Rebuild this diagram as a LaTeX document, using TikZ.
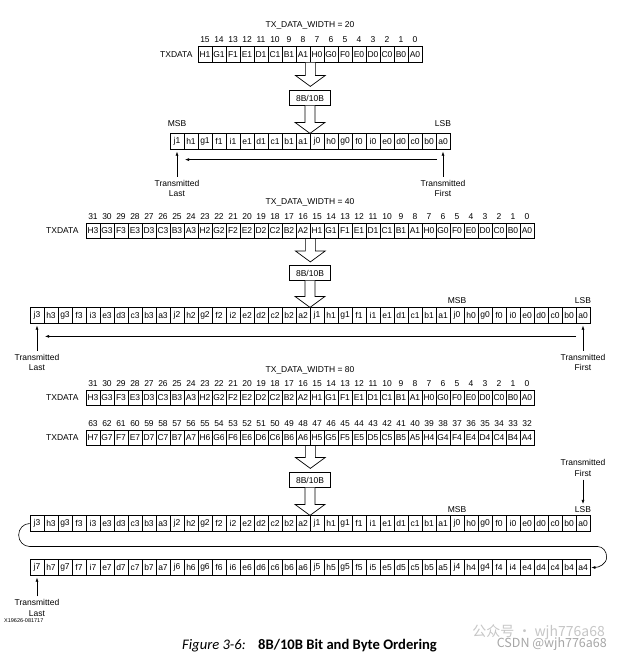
\documentclass[tikz,border=0pt]{standalone}
\usepackage{fontspec}
\setmainfont{Liberation Sans}
\newfontfamily\capfont{Carlito}
\newfontfamily\cjkfont{Noto Sans CJK SC}
\usetikzlibrary{positioning,arrows.meta,calc}

\newcommand{\figfont}{\fontsize{8.5}{10.5}\selectfont}

% hollow arrow: shaft from #2 down, tip #1 above #3
\newcommand{\fatarrow}[3][0pt]{%
  \draw[fill=white, line width=0.7pt] let \p1=(#2), \p2=(#3) in
    (\x1-5pt,\y1) -- (\x1-5pt,\y2+#1+11pt) -- (\x1-15pt,\y2+#1+11pt)
    -- (\x1,\y2+#1) -- (\x1+15pt,\y2+#1+11pt) -- (\x1+5pt,\y2+#1+11pt) -- (\x1+5pt,\y1);}

% TXDATA row: name, left edge, y, bytes (high to low)
\newcommand{\txrow}[4]{%
  \foreach \b [count=\p from 0] in {#4} {
    \foreach \l [count=\q from 0] in {H,G,F,E,D,C,B,A} {
      \pgfmathtruncatemacro\c{\p*8+\q}
      \pgfmathtruncatemacro\n{\b*8+7-\q}
      \node[bitcell] (#1-\n) at (#2+7+14*\c, #3) {\l\b};
      \node[bitnum, above=3.5pt of #1-\n] {\n};
    }
  }}

% encoded row: name, left edge, y, bytes (high to low)
\newcommand{\encrow}[4]{%
  \foreach \b [count=\p from 0] in {#4} {
    \foreach \l [count=\q from 0] in {j,h,g,f,i,e,d,c,b,a} {
      \pgfmathtruncatemacro\c{\p*10+\q}
      \node[bitcell] (#1-\l\b) at (#2+7+14*\c, #3) {\l\b};
    }
  }}

\begin{document}
\begin{tikzpicture}[
    x=1pt, y=-1pt,
    font=\figfont,
    bitcell/.style={draw, line width=0.7pt, minimum width=14pt, minimum height=15.5pt, inner sep=0pt, font=\figfont},
    bitnum/.style={inner sep=0pt, font=\figfont},
    codebox/.style={draw, line width=0.7pt, minimum width=41pt, minimum height=14.5pt, inner sep=0pt, fill=white},
    lbl/.style={inner sep=0pt, align=center, font=\figfont},
    sendarrow/.style={-{Latex[length=4pt,width=3pt]}, line width=0.6pt}
]
    \useasboundingbox (0,0) rectangle (622,657);

    % TX_DATA_WIDTH = 20
    \node[lbl] (w20) at (310,25) {TX\_DATA\_WIDTH = 20};
    \txrow{t20}{198}{54.5}{1,0}
    \node[lbl, left=5pt of t20-15] (tx20) {TXDATA};
    \node[codebox] (cb20) at (310,98) {8B/10B};
    \encrow{enc20}{170}{141.5}{1,0}
    \fatarrow[4pt]{t20-8.south east}{cb20.north}
    \fatarrow{cb20.south}{enc20-a1.north east}
    \node[lbl, above=7pt of enc20-j1] (msb20) {MSB};
    \node[lbl, above=7pt of enc20-a0] (lsb20) {LSB};
    \draw[sendarrow] ($(enc20-a0.south)+(-6,10)$) -- ($(enc20-j1.south)+(8,10)$);
    \node[lbl] (last20) at ($(enc20-j1)+(0,47)$) {Transmitted\\Last};
    \node[lbl] (first20) at ($(enc20-a0)+(0,47)$) {Transmitted\\First};
    \draw[sendarrow] ([yshift=3pt]last20.north) -- ([yshift=-2pt]enc20-j1.south);
    \draw[sendarrow] ([yshift=3pt]first20.north) -- ([yshift=-2pt]enc20-a0.south);

    % TX_DATA_WIDTH = 40
    \node[lbl] (w40) at (310,202) {TX\_DATA\_WIDTH = 40};
    \txrow{t40}{86}{231}{3,2,1,0}
    \node[lbl, left=7pt of t40-31] (tx40) {TXDATA};
    \node[codebox] (cb40) at (310,273) {8B/10B};
    \encrow{enc40}{30}{315.5}{3,2,1,0}
    \fatarrow[3.5pt]{t40-16.south east}{cb40.north}
    \fatarrow{cb40.south}{enc40-a2.north east}
    \node[lbl, above=4pt of enc40-j0] (msb40) {MSB};
    \node[lbl, above=4pt of enc40-a0] (lsb40) {LSB};
    \draw[sendarrow] ($(enc40-a0.south)+(-7,12.75)$) -- ($(enc40-j3.south)+(8,12.75)$);
    \node[lbl] (last40) at ($(enc40-j3)+(0,47)$) {Transmitted\\Last};
    \node[lbl] (first40) at ($(enc40-a0)+(0,47)$) {Transmitted\\First};
    \draw[sendarrow] ([yshift=3pt]last40.north) -- ([yshift=-2pt]enc40-j3.south);
    \draw[sendarrow] ([yshift=3pt]first40.north) -- ([yshift=-2pt]enc40-a0.south);

    % TX_DATA_WIDTH = 80
    \node[lbl] (w80) at (310,370) {TX\_DATA\_WIDTH = 80};
    \txrow{t80}{86}{398}{3,2,1,0}
    \txrow{t80}{86}{438}{7,6,5,4}
    \node[lbl, left=7pt of t80-31] (txa80) {TXDATA};
    \node[lbl, left=7pt of t80-63] (txb80) {TXDATA};
    \node[codebox] (cb80) at (310,480) {8B/10B};
    \encrow{enc80}{30}{523.5}{3,2,1,0}
    \encrow{enc80}{30}{567.5}{7,6,5,4}
    \fatarrow[4pt]{t80-48.south east}{cb80.north}
    \fatarrow{cb80.south}{enc80-a2.north east}
    \node[lbl, above=3pt of enc80-j0] (msb80) {MSB};
    \node[lbl, above=3pt of enc80-a0] (lsb80) {LSB};
    \node[lbl] (first80) at ($(enc80-a0)+(0,-55.5)$) {Transmitted\\First};
    \draw[sendarrow] ([yshift=-3pt]first80.south) -- ([yshift=2pt]lsb80.north);
    \draw[sendarrow] (enc80-j3.west) to[out=180,in=90] ++(-11,11.5) to[out=-90,in=180] ++(11,11.5)
        -- ++(568,0) to[out=0,in=90] ++(9,10.5) to[out=-90,in=0] ([xshift=1pt]enc80-a4.east);
    \node[lbl] (last80) at ($(enc80-j7)+(0,40.5)$) {Transmitted\\Last};
    \draw[sendarrow] ([yshift=3pt]last80.north) -- ([yshift=-2pt]enc80-j7.south);
    \node[inner sep=0pt, anchor=west, font=\fontsize{5.5}{6}\selectfont] (xref) at (4,621) {X19626-081717};

    % caption
    \node[inner sep=0pt, anchor=base west, font=\capfont\fontsize{14.6}{16}\selectfont\itshape] (figno) at (182,649) {Figure 3-6:};
    \node[inner sep=0pt, anchor=base west, font=\capfont\fontsize{14.6}{16}\selectfont\bfseries] (figttl) at (258,649) {8B/10B Bit and Byte Ordering};

    % watermark
    \node[inner sep=0pt, anchor=east, text=gray!45, font=\cjkfont\fontsize{14}{15}\selectfont] (wm1) at (605,632) {公众号 · wjh776a68};
    \node[inner sep=0pt, anchor=east, text=gray!70, font=\cjkfont\fontsize{12.5}{14}\selectfont] (wm2) at (607,644) {CSDN @wjh776a68};
\end{tikzpicture}
\end{document}
